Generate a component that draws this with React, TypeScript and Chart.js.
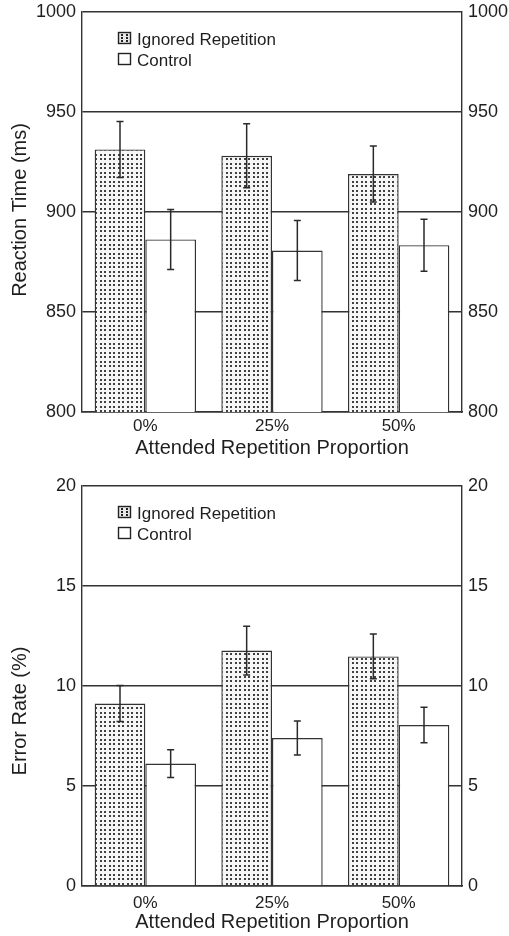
import React, { useEffect, useRef } from "react";
import { Chart, registerables } from "chart.js";

Chart.register(...registerables);

// ---- data ----
const categories = ["0%", "25%", "50%"];
const seriesNames = ["Ignored Repetition", "Control"];
const xTitle = "Attended Repetition Proportion";

const rtIgnored = [931.3, 928.1, 919.0];
const rtIgnoredErr = [14, 16, 14];
const rtControl = [886.3, 880.7, 883.4];
const rtControlErr = [15, 15, 13];
const rtTicks = [800, 850, 900, 950, 1000];

const erIgnored = [9.12, 11.77, 11.48];
const erIgnoredErr = [0.9, 1.22, 1.12];
const erControl = [6.12, 7.4, 8.05];
const erControlErr = [0.69, 0.85, 0.89];
const erTicks = [0, 5, 10, 15, 20];

const FONT = "'Liberation Sans', Arial, Helvetica, sans-serif";
const LINE = "#333333";
const TEXT = "#1e1e1e";

function makePattern(ctx: CanvasRenderingContext2D) {
  const c = document.createElement("canvas");
  c.width = 9;
  c.height = 9;
  const g = c.getContext("2d")!;
  g.fillStyle = "#f6f6f6";
  g.fillRect(0, 0, 9, 9);
  g.fillStyle = "#404040";
  for (const x of [1, 5]) for (const y of [1, 5]) g.fillRect(x, y, 2, 2);
  return ctx.createPattern(c, "repeat")!;
}

const errorBarPlugin = {
  id: "errorBars",
  afterDatasetsDraw(chart: any) {
    const ctx = chart.ctx as CanvasRenderingContext2D;
    const y = chart.scales.y;
    chart.data.datasets.forEach((ds: any, di: number) => {
      const meta = chart.getDatasetMeta(di);
      meta.data.forEach((bar: any, i: number) => {
        const v = ds.data[i];
        const e = ds.errors[i];
        const yt = y.getPixelForValue(v + e);
        const yb = y.getPixelForValue(v - e);
        const x = bar.x;
        ctx.save();
        ctx.strokeStyle = "#2a2a2a";
        ctx.lineWidth = 1.5;
        ctx.beginPath();
        ctx.moveTo(x, yt);
        ctx.lineTo(x, yb);
        ctx.moveTo(x - 3.5, yt);
        ctx.lineTo(x + 3.5, yt);
        ctx.moveTo(x - 3.5, yb);
        ctx.lineTo(x + 3.5, yb);
        ctx.stroke();
        ctx.restore();
      });
    });
  },
};

const legendPlugin = {
  id: "boxLegend",
  afterDraw(chart: any) {
    const ctx = chart.ctx as CanvasRenderingContext2D;
    const { left, top } = chart.chartArea;
    const bx = left + 36;
    const rows = [top + 20, top + 41];
    ctx.save();
    chart.data.datasets.forEach((ds: any, i: number) => {
      const by = rows[i];
      ctx.fillStyle = i === 0 ? "#e8e8e8" : "#ffffff";
      ctx.fillRect(bx, by, 13, 12);
      if (i === 0) {
        ctx.fillStyle = "#222";
        for (const dx of [3, 8]) for (const dy of [2.5, 5.5, 8.5]) ctx.fillRect(bx + dx, by + dy - 0.5, 2, 2);
      }
      ctx.strokeStyle = "#222";
      ctx.lineWidth = 1.4;
      ctx.strokeRect(bx + 0.5, by + 0.5, 12, 11);
      ctx.fillStyle = TEXT;
      ctx.font = `17px ${FONT}`;
      ctx.textBaseline = "alphabetic";
      ctx.textAlign = "left";
      ctx.fillText(ds.label, bx + 19, by + 12.5);
    });
    ctx.restore();
  },
};

const yTitlePlugin = {
  id: "yTitle",
  afterDraw(chart: any, _args: any, opts: any) {
    const ctx = chart.ctx as CanvasRenderingContext2D;
    const { top, bottom } = chart.chartArea;
    ctx.save();
    ctx.translate(20, (top + bottom) / 2 + (opts.offset || 0));
    ctx.rotate(-Math.PI / 2);
    ctx.fillStyle = TEXT;
    ctx.font = `20px ${FONT}`;
    ctx.textAlign = "center";
    ctx.textBaseline = "middle";
    ctx.fillText(opts.text, 0, 0);
    ctx.restore();
  },
};

type Props = {
  ignored: number[];
  ignoredErr: number[];
  control: number[];
  controlErr: number[];
  ticks: number[];
  yTitle: string;
  yTitleOffset: number;
  padTop: number;
  padBottom: number;
  tickPad: number;
};

function BarChart(p: Props) {
  const ref = useRef<HTMLCanvasElement>(null);
  useEffect(() => {
    const canvas = ref.current!;
    const ctx = canvas.getContext("2d")!;
    const pattern = makePattern(ctx);
    const min = p.ticks[0];
    const max = p.ticks[p.ticks.length - 1];
    const stepSize = p.ticks[1] - p.ticks[0];
    const yTicks = {
      stepSize,
      padding: 6,
      color: TEXT,
      font: { family: FONT, size: 18 },
      callback: (v: any) => String(v),
    };
    const chart = new Chart(canvas, {
      type: "bar",
      data: {
        labels: categories,
        datasets: [
          {
            label: seriesNames[0],
            data: p.ignored,
            errors: p.ignoredErr,
            backgroundColor: pattern,
            borderColor: LINE,
            borderWidth: 1.4,
            borderSkipped: "start",
            barPercentage: 1,
            categoryPercentage: 0.8,
          } as any,
          {
            label: seriesNames[1],
            data: p.control,
            errors: p.controlErr,
            backgroundColor: "#ffffff",
            borderColor: LINE,
            borderWidth: 1.4,
            borderSkipped: "start",
            barPercentage: 1,
            categoryPercentage: 0.8,
          } as any,
        ],
      },
      options: {
        animation: false,
        responsive: false,
        layout: { padding: { top: p.padTop, bottom: p.padBottom, left: 0, right: 0 } },
        plugins: {
          legend: { display: false },
          tooltip: { enabled: false },
          yTitle: { text: p.yTitle, offset: p.yTitleOffset },
        } as any,
        scales: {
          x: {
            type: "category",
            position: "bottom",
            z: 1,
            grid: { display: false, drawTicks: false },
            border: { display: true, color: LINE, width: 1.4 },
            ticks: { color: TEXT, font: { family: FONT, size: 17 }, padding: p.tickPad },
            title: {
              display: true,
              text: xTitle,
              color: TEXT,
              font: { family: FONT, size: 20 },
              padding: { top: 0, bottom: 0 },
            },
            afterFit: (s: any) => {
              s.height = 48;
            },
          },
          y: {
            type: "linear",
            position: "left",
            min,
            max,
            ticks: yTicks,
            grid: { color: LINE, lineWidth: 1.4, drawTicks: false },
            border: { display: true, color: LINE, width: 1.4 },
            afterFit: (s: any) => {
              s.width = 82;
              s.paddingTop = 0;
              s.paddingBottom = 0;
            },
          },
          y2: {
            type: "linear",
            position: "right",
            display: true,
            min,
            max,
            ticks: yTicks,
            grid: { display: false, drawTicks: false },
            border: { display: true, color: LINE, width: 1.4 },
            afterFit: (s: any) => {
              s.width = 47;
              s.paddingTop = 0;
              s.paddingBottom = 0;
            },
          },
        } as any,
      },
      plugins: [errorBarPlugin, legendPlugin, yTitlePlugin],
    });
    return () => chart.destroy();
  }, []);
  return <canvas ref={ref} width={509} height={468} style={{ display: "block", width: 509, height: 468 }} />;
}

export default function App() {
  return (
    <div style={{ position: "absolute", left: 0, top: 0, width: 509, height: 936, background: "#fff" }}>
      <BarChart
        ignored={rtIgnored}
        ignoredErr={rtIgnoredErr}
        control={rtControl}
        controlErr={rtControlErr}
        ticks={rtTicks}
        yTitle="Reaction Time (ms)"
        yTitleOffset={-2}
        padTop={12}
        padBottom={8}
        tickPad={4}
      />
      <BarChart
        ignored={erIgnored}
        ignoredErr={erIgnoredErr}
        control={erControl}
        controlErr={erControlErr}
        ticks={erTicks}
        yTitle="Error Rate (%)"
        yTitleOffset={25}
        padTop={18}
        padBottom={2}
        tickPad={7}
      />
    </div>
  );
}
